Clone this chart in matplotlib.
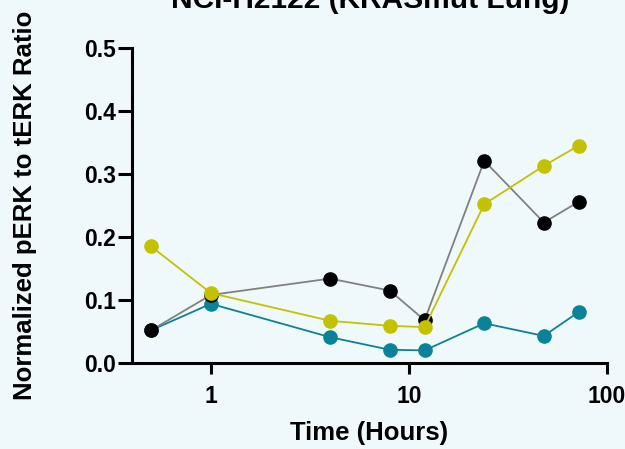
import matplotlib
matplotlib.use("Agg")
import matplotlib.pyplot as plt

plt.rcParams['font.family'] = ['Liberation Sans', 'DejaVu Sans']
plt.rcParams['font.weight'] = 'bold'

time_h = [0.5, 1, 4, 8, 12, 24, 48, 72]
black_vals = [0.052, 0.108, 0.134, 0.115, 0.068, 0.321, 0.223, 0.256]
yellow_vals = [0.185, 0.111, 0.067, 0.059, 0.057, 0.252, 0.313, 0.345]
teal_vals = [0.052, 0.094, 0.041, 0.021, 0.020, 0.063, 0.043, 0.081]
x_ticks = [1, 10, 100]
x_ticklabels = ['1', '10', '100']
y_ticks = [0.0, 0.1, 0.2, 0.3, 0.4, 0.5]
y_ticklabels = ['0.0', '0.1', '0.2', '0.3', '0.4', '0.5']

bg = '#eff9fb'
fig = plt.figure(figsize=(6.25, 4.49), dpi=100, facecolor=bg)
ax = fig.add_axes([132/625, 1-363/449, (607-132)/625, (363-48)/449])
ax.set_facecolor(bg)

ms = 9.5
ax.plot(time_h, teal_vals, '-o', color='#0a8399', mfc='#0a8399', mec='#0a8399', lw=1.3, ms=ms, zorder=3, clip_on=False)
ax.plot(time_h, black_vals, '-', color='#808080', lw=1.3, zorder=4, clip_on=False)
ax.plot(time_h, black_vals, 'o', color='black', ms=ms, zorder=4, clip_on=False)
ax.plot(time_h, yellow_vals, '-o', color='#c4c200', mfc='#c4c200', mec='#c4c200', lw=1.3, ms=ms, zorder=5, clip_on=False)

ax.set_xscale('log')
ax.set_xlim(0.4, 100)
ax.set_ylim(0, 0.5)
ax.set_xticks(x_ticks)
ax.set_xticklabels(x_ticklabels)
ax.xaxis.set_minor_locator(matplotlib.ticker.NullLocator())
ax.set_yticks(y_ticks)
ax.set_yticklabels(y_ticklabels)

for s in ['top', 'right']:
    ax.spines[s].set_visible(False)
for s in ['left', 'bottom']:
    ax.spines[s].set_linewidth(2.2)
    ax.spines[s].set_color('black')

ax.tick_params(axis='y', length=10, width=2.2, pad=1.5, labelsize=16.5)
ax.tick_params(axis='x', length=8, width=2.2, pad=8, labelsize=16.5)
for lab in ax.get_xticklabels() + ax.get_yticklabels():
    lab.set_fontweight('bold')

ax.set_xlabel('Time (Hours)', fontsize=18.5, fontweight='bold', labelpad=9)
fig.text(25/625, 1-205/449, 'Normalized pERK to tERK Ratio', rotation=90,
         ha='center', va='center', fontsize=18.5, fontweight='bold')
fig.text(370/625, 1-8/449, 'NCI-H2122 (KRASmut Lung)', ha='center', va='baseline',
         fontsize=21.5, fontweight='bold')

fig.savefig('out.png', dpi=100, facecolor=bg)
